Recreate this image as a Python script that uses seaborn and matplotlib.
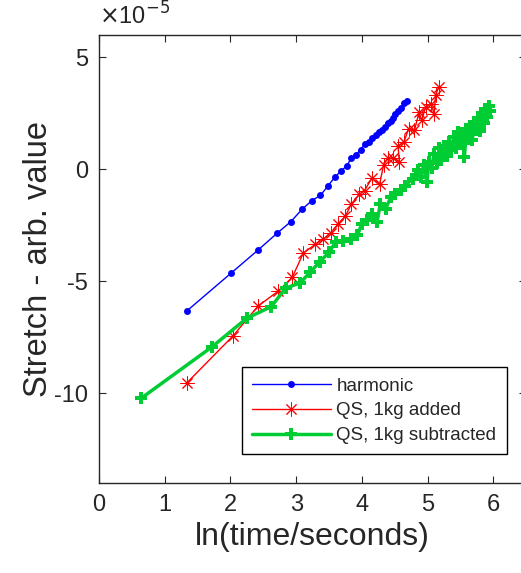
import numpy as np
import pandas as pd
import seaborn as sns
import matplotlib.pyplot as plt

# harmonic
harm_x = [1.34, 2.01, 2.42, 2.71, 2.92, 3.09, 3.24, 3.37, 3.48, 3.59, 3.68, 3.77, 3.84, 3.91, 3.98,
          4.04, 4.11, 4.16, 4.21, 4.26, 4.30, 4.35, 4.39, 4.44, 4.48, 4.51, 4.55, 4.59, 4.64, 4.68]
harm_y = [-6.31, -4.63, -3.60, -2.85, -2.33, -1.78, -1.39, -1.16, -0.75, -0.34, -0.08, 0.16, 0.51, 0.66, 0.88,
          1.12, 1.24, 1.39, 1.52, 1.66, 1.76, 1.89, 2.05, 2.16, 2.30, 2.45, 2.60, 2.72, 2.97, 3.07]

# QS, 1kg added
add_x = [1.34, 2.04, 2.42, 2.72, 2.94, 3.11, 3.29, 3.41, 3.53, 3.64, 3.75, 3.84, 3.96, 4.04, 4.15, 4.27,
         4.33, 4.39, 4.48, 4.57, 4.55, 4.64, 4.71, 4.80, 4.87, 4.91, 4.97, 5.05, 5.10, 5.12, 5.17]
add_y = [-9.52, -7.43, -6.10, -5.45, -4.82, -3.73, -3.35, -3.12, -2.82, -2.43, -2.08, -1.54, -1.12, -0.95, -0.40, -0.66,
         0.20, 0.50, 0.52, 0.33, 1.05, 1.22, 1.82, 1.75, 2.55, 2.19, 2.79, 2.94, 2.49, 3.31, 3.68]

# QS, 1kg subtracted
sub_x = [0.64, 1.72, 2.25, 2.62, 2.84, 3.06, 3.21, 3.36, 3.50, 3.60, 3.72, 3.84, 3.93, 4.00, 4.08, 4.16,
         4.23, 4.28, 4.36, 4.44, 4.51, 4.59, 4.66, 4.77, 4.82, 4.86, 4.90, 4.94, 4.99, 5.02, 5.06, 5.10,
         5.14, 5.18, 5.21, 5.25, 5.29, 5.33, 5.36, 5.40, 5.43, 5.46, 5.50, 5.53, 5.56, 5.59, 5.62, 5.65,
         5.68, 5.71, 5.74, 5.77, 5.80, 5.83, 5.86, 5.88, 5.91, 5.93, 5.95]
sub_y = [-10.22, -7.92, -6.64, -6.13, -5.30, -5.07, -4.60, -4.12, -3.70, -3.25, -3.18, -3.10, -2.95, -2.43, -2.28, -1.98,
         -2.36, -1.54, -1.76, -1.24, -1.09, -0.94, -0.72, -0.42, -0.27, -0.05, -0.35, 0.20, -0.57, 0.35, 0.05, 0.70,
         0.30, 0.95, 0.40, 1.05, 0.60, 1.20, 0.85, 1.45, 0.95, 1.65, 1.15, 1.55, 0.55, 1.80, 1.35, 1.95,
         1.30, 2.10, 1.75, 2.30, 1.70, 2.50, 2.05, 2.70, 2.35, 2.85, 2.60]

x_ticks = [0, 1, 2, 3, 4, 5, 6]
y_ticks = [-10, -5, 0, 5]

sns.set_style('ticks')
plt.rcParams['font.family'] = ['Liberation Sans', 'DejaVu Sans']
plt.rcParams['axes.unicode_minus'] = False

fig = plt.figure(figsize=(5.21, 5.73), dpi=100)
ax = fig.add_axes([0.19, 0.157, 0.82, 0.782])

series = [
    ('harmonic', harm_x, harm_y, dict(color='#0000ff', marker='o', markersize=5, linewidth=1.0,
                                      markeredgewidth=0, markeredgecolor='#0000ff')),
    ('QS, 1kg added', add_x, add_y, dict(color='#ff0000', marker=(8, 2, 0), markersize=10, linewidth=1.0,
                                         markeredgewidth=0.7, markeredgecolor='#ff0000')),
    ('QS, 1kg subtracted', sub_x, sub_y, dict(color='#00cc33', marker='P', markersize=9, linewidth=2.5,
                                              markeredgewidth=0, markeredgecolor='#00cc33')),
]
for name, xs, ys, style in series:
    df = pd.DataFrame({'x': xs, 'y': ys})
    sns.lineplot(data=df, x='x', y='y', sort=False, estimator=None, ax=ax, label=name, **style)

ax.set_xlim(0, 6.5)
ax.set_ylim(-14, 6)
ax.set_xticks(x_ticks)
ax.set_yticks(y_ticks)

ax.tick_params(direction='in', top=True, right=True, labelsize=17, colors='#262626', length=5, pad=8)
for sp in ax.spines.values():
    sp.set_visible(True)
    sp.set_color('#262626')
    sp.set_linewidth(1.0)

ax.text(0.0, 1.012, r'$\times$10$^{-5}$', transform=ax.transAxes, fontsize=17, color='#262626',
        ha='left', va='bottom')

ax.set_xlabel('ln(time/seconds)', fontsize=23, color='#262626')
ax.set_ylabel('Stretch - arb. value', fontsize=23.5, color='#262626', labelpad=0)

leg = ax.legend(loc='upper left', bbox_to_anchor=(0.334, 0.258), fontsize=13.5, handlelength=4.2,
                frameon=True, fancybox=False, edgecolor='black', borderpad=0.55, labelspacing=0.4,
                handletextpad=0.3, borderaxespad=0)
leg.get_frame().set_linewidth(1.0)
leg.get_frame().set_alpha(1)

fig.savefig('out.png', dpi=100)
